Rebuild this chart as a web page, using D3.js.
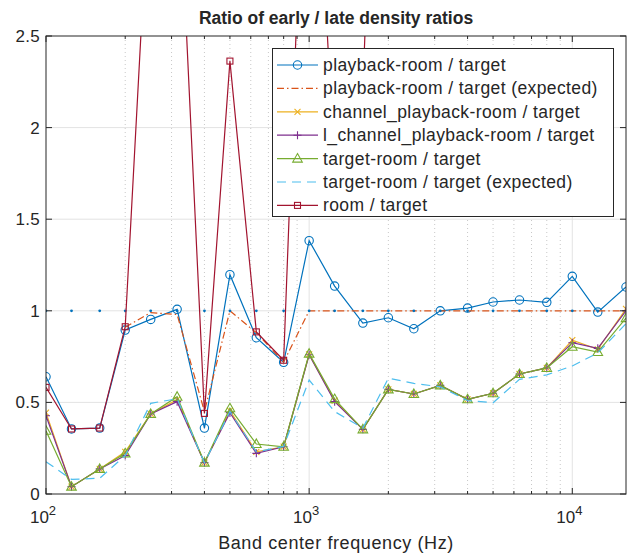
<!DOCTYPE html>
<html>
<head>
<meta charset="utf-8">
<script src="https://cdn.jsdelivr.net/npm/d3@7"></script>
<style>
  body { margin: 0; background: #fff; }
  text { font-family: "Liberation Sans", Arial, Helvetica, sans-serif; fill: #262626; }
</style>
</head>
<body>
<script>
// band centre frequencies (Hz)
const freqs = [100, 125, 160, 200, 250, 315, 400, 500, 630, 800, 1000, 1250, 1600,
  2000, 2500, 3150, 4000, 5000, 6300, 8000, 10000, 12500, 16000];

const playback = [0.64, 0.355, 0.36, 0.895, 0.953, 1.008, 0.36, 1.197, 0.853, 0.719, 1.383, 1.135, 0.933,
  0.962, 0.902, 1.0, 1.015, 1.048, 1.059, 1.046, 1.188, 0.993, 1.13];
const playbackExp = [null, null, null, 0.91, 0.99, 0.98, 0.45, 1.0, 0.88, 0.72, 1.0, 1.0, 1.0,
  1.0, 1.0, 1.0, 1.0, 1.0, 1.0, 1.0, 1.0, 1.0, 1.0];
const channelPb = [0.444, 0.04, 0.137, 0.23, 0.437, 0.515, 0.171, 0.455, 0.23, 0.258, 0.762, 0.51, 0.353,
  0.571, 0.546, 0.593, 0.517, 0.55, 0.655, 0.688, 0.84, 0.79, 1.01];
const lChannelPb = [0.427, 0.04, 0.137, 0.21, 0.437, 0.504, 0.171, 0.444, 0.222, 0.258, 0.76, 0.504, 0.353,
  0.571, 0.546, 0.593, 0.517, 0.55, 0.655, 0.688, 0.826, 0.795, 1.0];
const targetRoom = [0.345, 0.04, 0.137, 0.222, 0.437, 0.531, 0.171, 0.468, 0.273, 0.258, 0.766, 0.518, 0.353,
  0.571, 0.546, 0.593, 0.517, 0.55, 0.655, 0.688, 0.804, 0.775, 0.96];
const targetRoomExp = [0.176, 0.08, 0.086, 0.21, 0.495, 0.52, 0.17, 0.45, 0.23, 0.26, 0.622, 0.45, 0.36,
  0.632, 0.604, 0.585, 0.51, 0.498, 0.626, 0.65, 0.699, 0.77, 0.93];
const room = [0.582, 0.355, 0.36, 0.913, 3.5, 3.6, 0.44, 2.363, 0.885, 0.73, 4.4, 1.75, 2.2,
  6.0, 5.0, 4.5, 4.0, 4.2, 3.8, 4.5, 5.0, 4.0, 3.5];
const ones = freqs.map(() => 1);

const yTicks = [0, 0.5, 1, 1.5, 2, 2.5];
const xDecades = [100, 1000, 10000];

const series = [
  { name: 'playback-room / target', values: playback, color: '#0072BD', marker: 'circle' },
  { name: 'playback-room / target (expected)', values: playbackExp, color: '#D95319', dash: '7,3,1.5,3' },
  { name: 'channel_playback-room / target', values: channelPb, color: '#EDB120', marker: 'x' },
  { name: 'l_channel_playback-room / target', values: lChannelPb, color: '#7E2F8E', marker: 'plus' },
  { name: 'target-room / target', values: targetRoom, color: '#77AC30', marker: 'triangle' },
  { name: 'target-room / target (expected)', values: targetRoomExp, color: '#4DBEEE', dash: '9,6' },
  { name: 'room / target', values: room, color: '#A2142F', marker: 'square' },
];

const W = 630, H = 554;
const m = { left: 46, right: 626, top: 36, bottom: 494 };

const x = d3.scaleLog().domain([100, 16000]).range([m.left, m.right]);
const y = d3.scaleLinear().domain([0, 2.5]).range([m.bottom, m.top]);

const svg = d3.select('body').append('svg').attr('width', W).attr('height', H);

svg.append('defs').append('clipPath').attr('id', 'clip')
  .append('rect').attr('x', m.left).attr('y', m.top)
  .attr('width', m.right - m.left).attr('height', m.bottom - m.top);

// grid
const minor = [];
[100, 1000, 10000].forEach((d) => {
  for (let k = 2; k <= 9; k++) if (d * k < 16000) minor.push(d * k);
});
svg.append('g').selectAll('line').data(minor).enter().append('line')
  .attr('x1', (d) => x(d)).attr('x2', (d) => x(d))
  .attr('y1', m.top).attr('y2', m.bottom)
  .style('stroke', '#c8c8c8').style('stroke-width', 1).style('stroke-dasharray', '1,3');
svg.append('g').selectAll('line').data(xDecades.slice(1)).enter().append('line')
  .attr('x1', (d) => x(d)).attr('x2', (d) => x(d))
  .attr('y1', m.top).attr('y2', m.bottom)
  .style('stroke', '#e3e3e3').style('stroke-width', 1);
svg.append('g').selectAll('line').data(yTicks.slice(1, -1)).enter().append('line')
  .attr('x1', m.left).attr('x2', m.right)
  .attr('y1', (d) => y(d)).attr('y2', (d) => y(d))
  .style('stroke', '#e3e3e3').style('stroke-width', 1);

// data
const plot = svg.append('g').attr('clip-path', 'url(#clip)');
const line = d3.line()
  .defined((d) => d[1] !== null)
  .x((d) => x(d[0])).y((d) => y(d[1]));

function drawMarker(g, type, color) {
  if (type === 'circle') {
    g.append('circle').attr('r', 4.2).style('fill', 'none').style('stroke', color).style('stroke-width', 1.1);
  } else if (type === 'square') {
    g.append('rect').attr('x', -3).attr('y', -3).attr('width', 6).attr('height', 6)
      .style('fill', 'none').style('stroke', color).style('stroke-width', 1.1);
  } else if (type === 'triangle') {
    g.append('path').attr('d', 'M0,-5L4.8,3.5L-4.8,3.5Z')
      .style('fill', 'none').style('stroke', color).style('stroke-width', 1.1);
  } else if (type === 'x') {
    g.append('path').attr('d', 'M-3,-3L3,3M-3,3L3,-3')
      .style('stroke', color).style('stroke-width', 1.1);
  } else if (type === 'plus') {
    g.append('path').attr('d', 'M-4,0L4,0M0,-4L0,4')
      .style('stroke', color).style('stroke-width', 1.1);
  }
}

series.forEach((s, i) => {
  const pts = freqs.map((f, j) => [f, s.values[j]]);
  plot.append('path').datum(pts).attr('d', line)
    .style('fill', 'none').style('stroke', s.color).style('stroke-width', 1.2)
    .style('stroke-dasharray', s.dash || null);
  if (s.marker) {
    plot.selectAll(null).data(pts.filter((p) => p[1] !== null)).enter().append('g')
      .attr('transform', (p) => `translate(${x(p[0])},${y(p[1])})`)
      .each(function () { drawMarker(d3.select(this), s.marker, s.color); });
  }
  if (i === 1) {
    // reference dots at 1
    plot.selectAll(null).data(freqs).enter().append('circle')
      .attr('cx', (f) => x(f)).attr('cy', (f, j) => y(ones[j])).attr('r', 1.4)
      .style('fill', '#0072BD');
  }
});

// axes box
svg.append('rect').attr('x', m.left).attr('y', m.top)
  .attr('width', m.right - m.left).attr('height', m.bottom - m.top)
  .style('fill', 'none').style('stroke', '#262626').style('stroke-width', 1);

// ticks
const tk = svg.append('g').style('stroke', '#262626').style('stroke-width', 1);
yTicks.forEach((v) => {
  tk.append('line').attr('x1', m.left).attr('x2', m.left + 6).attr('y1', y(v)).attr('y2', y(v));
  tk.append('line').attr('x1', m.right).attr('x2', m.right - 6).attr('y1', y(v)).attr('y2', y(v));
});
xDecades.forEach((v) => {
  tk.append('line').attr('x1', x(v)).attr('x2', x(v)).attr('y1', m.bottom).attr('y2', m.bottom - 6);
  tk.append('line').attr('x1', x(v)).attr('x2', x(v)).attr('y1', m.top).attr('y2', m.top + 6);
});
minor.forEach((v) => {
  tk.append('line').attr('x1', x(v)).attr('x2', x(v)).attr('y1', m.bottom).attr('y2', m.bottom - 3);
  tk.append('line').attr('x1', x(v)).attr('x2', x(v)).attr('y1', m.top).attr('y2', m.top + 3);
});

// tick labels
svg.append('g').selectAll('text').data(yTicks).enter().append('text')
  .attr('x', m.left - 6).attr('y', (d) => y(d) + 6)
  .attr('text-anchor', 'end').style('font-size', '17px').style('letter-spacing', '0.3px')
  .text((d) => d);
const xl = svg.append('g').selectAll('text').data(xDecades).enter().append('text')
  .attr('x', (d) => x(d) - 3).attr('y', 523)
  .attr('text-anchor', 'middle').style('font-size', '17px');
xl.append('tspan').text('10');
xl.append('tspan').attr('dy', -8).style('font-size', '13px').text((d) => Math.round(Math.log10(d)));

svg.append('text').attr('x', (m.left + m.right) / 2).attr('y', 549)
  .attr('text-anchor', 'middle').style('font-size', '18px').style('letter-spacing', '0.6px')
  .text('Band center frequency (Hz)');
svg.append('text').attr('x', (m.left + m.right) / 2).attr('y', 24)
  .attr('text-anchor', 'middle').style('font-size', '17.5px').style('font-weight', 'bold')
  .text('Ratio of early / late density ratios');

// legend
const lg = svg.append('g');
lg.append('rect').attr('x', 272.5).attr('y', 48.5).attr('width', 341).attr('height', 168)
  .style('fill', '#fff').style('stroke', '#262626').style('stroke-width', 1);
series.forEach((s, i) => {
  const ly = 65 + i * 23.4;
  lg.append('line').attr('x1', 277).attr('x2', 318).attr('y1', ly).attr('y2', ly)
    .style('stroke', s.color).style('stroke-width', 1.2)
    .style('stroke-dasharray', s.dash || null);
  if (s.marker) {
    const g = lg.append('g').attr('transform', `translate(297.5,${ly})`);
    drawMarker(g, s.marker, s.color);
  }
  lg.append('text').attr('x', 323).attr('y', ly + 6).style('font-size', '17.5px')
    .style('letter-spacing', '0.4px').text(s.name);
});
</script>
</body>
</html>
